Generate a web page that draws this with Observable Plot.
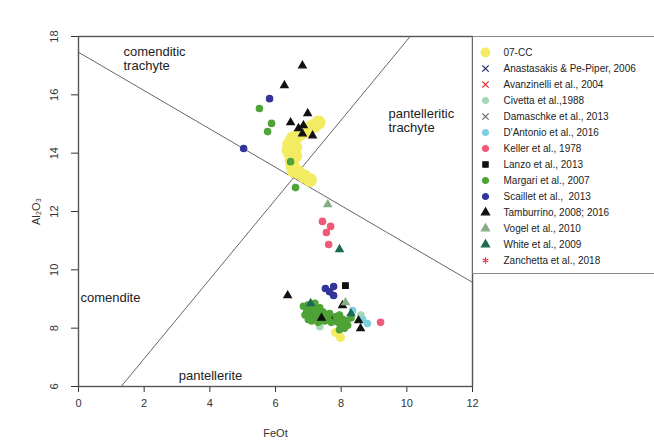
<!DOCTYPE html>
<html>
<head>
<meta charset="utf-8">
<script src="https://cdn.jsdelivr.net/npm/d3@7"></script>
<script src="https://cdn.jsdelivr.net/npm/@observablehq/plot@0.6"></script>
<style>
  html, body { margin: 0; padding: 0; background: #fff; }
  #wrap { position: relative; width: 654px; height: 443px; overflow: hidden; font-family: "Liberation Sans", Arial, sans-serif; }
  #legend { position: absolute; left: 472px; top: 36px; }
  #legend svg { display: block; border-top: 1px solid #8a8a8a; border-bottom: 1px solid #8a8a8a; border-left: 1px solid #6a6a6a; }
</style>
</head>
<body>
<div id="wrap"><div id="main"></div><div id="legend"></div></div>
<script>
// ---- Data (FeOt, Al2O3) ----
const sourceNames = ["07-CC","Anastasakis & Pe-Piper, 2006","Avanzinelli et al., 2004","Civetta et al.,1988","Damaschke et al., 2013","D'Antonio et al., 2016","Keller et al., 1978","Lanzo et al., 2013","Margari et al., 2007","Scaillet et al.,  2013","Tamburrino, 2008; 2016","Vogel et al., 2010","White et al., 2009","Zanchetta et al., 2018"];
const sourceColors = ["#f3ec62","#1c2a66","#e8232b","#a8d6b6","#6a6a6a","#7fd0de","#ef5a78","#111111","#4fa337","#33359a","#111111","#86ad86","#1d6a52","#e5344f"];
const sourceSymbols = ["circle","times","times","circle","times","circle","circle","square","circle","circle","triangle","triangle","triangle","asterisk"];

const cc07 = [[7.31,15.05],[7.2,14.95],[7.07,14.88],[6.95,14.8],[6.82,14.71],[6.68,14.6],[6.52,14.5],[6.42,14.3],[6.6,14.2],[6.4,14.1],[6.46,13.95],[6.6,13.9],[6.49,13.75],[6.52,13.55],[6.55,13.4],[6.7,13.34],[6.88,13.2],[7.05,13.08],[7.83,7.85],[7.98,7.68]];
const anastasakis = [[8.35,10.46],[7.95,11.42],[8.47,8.33]];
const avanzinelli = [[8.35,11.14],[6.82,8.78],[8.44,8.43],[8.2,7.9]];
const civetta = [[7.35,8.05],[8.6,8.45]];
const damaschke = [[5.85,15.7]];
const dantonio = [[8.35,8.6],[8.8,8.16],[8.65,8.3]];
const keller = [[7.43,11.66],[7.68,11.49],[7.55,11.28],[7.62,10.87],[9.2,8.2]];
const lanzo = [[8.13,9.46],[7.77,8.37],[8.07,8.2]];
const margari = [[5.51,15.53],[5.88,15.02],[5.76,14.74],[6.46,13.71],[6.61,12.82],
  [6.85,8.75],[6.95,8.6],[7.0,8.8],[7.05,8.5],[7.1,8.7],[7.15,8.4],[7.2,8.6],[7.25,8.3],[7.3,8.5],[7.35,8.7],[7.4,8.35],[7.45,8.55],[7.5,8.25],[7.55,8.45],[7.6,8.3],[7.65,8.5],[6.9,8.45],[7.0,8.3],[7.1,8.25],[7.3,8.2],[7.7,8.2],[7.2,8.85],
  [7.85,8.4],[7.9,8.2],[7.95,8.45],[8.0,8.1],[8.05,8.3],[8.1,8.0],[8.15,8.25],[8.2,8.1],[7.95,7.95],[8.3,8.35]];
const scaillet = [[5.82,15.87],[5.03,14.16],[7.52,9.36],[7.77,9.43],[7.77,9.12],[7.65,9.25]];
const tamburrino = [[6.82,17.0],[6.27,16.32],[6.98,15.36],[6.46,15.05],[6.7,14.85],[6.82,14.67],[7.13,14.6],[6.85,14.95],[6.37,9.12],[8.04,8.78],[8.59,7.99],[8.53,8.26],[7.4,8.35]];
const vogel = [[7.59,12.24],[8.13,8.88]];
const white = [[7.95,10.7],[7.07,8.85],[8.3,8.5]];
const zanchetta = [[7.9,7.7],[8.0,7.8],[8.1,7.65],[8.2,7.75],[8.3,7.7],[8.4,7.8],[8.05,7.6],[8.25,7.6],[8.45,7.65],[8.15,7.9],[8.35,7.95],[8.5,8.05]];

const seriesList = [cc07, anastasakis, avanzinelli, civetta, damaschke, dantonio, keller, lanzo, margari, scaillet, tamburrino, vogel, white, zanchetta];

// Boundary lines
const boundaryA = [[0,17.46],[12,9.57]];
const boundaryB = [[1.3,6],[10.1,18]];

// Field labels
const fieldLabelsLeft = [
  {x: 1.37, y: 17.26, text: "comenditic\ntrachyte"},
  {x: 9.44, y: 15.12, text: "pantelleritic\ntrachyte"},
  {x: 0.06, y: 9.05, text: "comendite"}
];
const fieldLabelsCenter = [
  {x: 4.02, y: 6.38, text: "pantellerite"}
];

const xTicks = [0,2,4,6,8,10,12];
const yTicks = [6,8,10,12,14,16,18];
const xDomain = [0, 12];
const yDomain = [6, 18];

// ---- Build table ----
const points = [];
seriesList.forEach((s, i) => s.forEach(([x, y]) => points.push({x, y, source: sourceNames[i]})));

const colorScale = {domain: sourceNames, range: sourceColors};
const symbolScale = {domain: sourceNames, range: sourceSymbols};
const rOf = d => d.source === "07-CC" ? (d.y < 10 ? 4.5 : 7) :
  d.source === "Damaschke et al., 2013" ? 2.5 :
  (d.source.startsWith("Tamburrino") || d.source.startsWith("Vogel") || d.source.startsWith("White")) ? 2.8 : 3.2;
const strokeless = ["Anastasakis","Avanzinelli","Damaschke","Zanchetta"];
const fillOf = d => strokeless.some(s => d.source.startsWith(s)) ? "none" : d.source;

const font = "Liberation Sans, Arial, sans-serif";
const main = Plot.plot({
  width: 654, height: 443,
  marginLeft: 78, marginRight: 182, marginTop: 36, marginBottom: 57,
  style: {fontFamily: font, fontSize: "11px", color: "#333", background: "#fff"},
  x: {domain: xDomain, ticks: xTicks, tickSize: 6, tickPadding: 7, label: "FeOt", labelAnchor: "center", labelOffset: 50, labelArrow: "none"},
  y: {domain: yDomain, ticks: yTicks, tickSize: 7, tickFormat: () => "", label: "Al₂O₃", labelAnchor: "center", labelOffset: 46, labelArrow: "none"},
  color: colorScale,
  symbol: symbolScale,
  r: {type: "identity"},
  marks: [
    Plot.text(yTicks, {x: () => 0, y: d => d, text: d => String(d), dx: -21, rotate: -90, textAnchor: "middle", lineAnchor: "bottom", fontSize: 11, fill: "#333"}),
    Plot.line(boundaryA, {x: d => d[0], y: d => d[1], stroke: "#666", strokeWidth: 1}),
    Plot.line(boundaryB, {x: d => d[0], y: d => d[1], stroke: "#666", strokeWidth: 1}),
    Plot.dot(points, {x: "x", y: "y", symbol: "source", fill: fillOf, stroke: "source", r: rOf, strokeWidth: d => d.source === "07-CC" ? 0 : 1.2}),
    Plot.text(fieldLabelsLeft, {x: "x", y: "y", text: "text", textAnchor: "start", lineAnchor: "middle", fontSize: 13, fill: "#222", lineHeight: 1.1}),
    Plot.text(fieldLabelsCenter, {x: "x", y: "y", text: "text", textAnchor: "middle", lineAnchor: "middle", fontSize: 13, fill: "#222"}),
    Plot.frame({stroke: "#555", strokeWidth: 1.4})
  ]
});
document.getElementById("main").appendChild(main);

// ---- Legend ----
const legendRows = sourceNames.map((name, i) => ({name, color: sourceColors[i], symbol: sourceSymbols[i]}));
const legend = Plot.plot({
  width: 182, height: 236,
  margin: 0,
  style: {fontFamily: font, fontSize: "10px", background: "#fff", overflow: "visible"},
  x: {domain: [0, 1], range: [12, 30], axis: null},
  y: {type: "point", domain: sourceNames, range: [12, 225], padding: 0, axis: null},
  symbol: symbolScale,
  marks: [
    Plot.dot(legendRows, {x: () => 0, y: "name", symbol: "name",
      fill: d => ["times","asterisk"].includes(d.symbol) ? "none" : d.color,
      stroke: d => d.color, r: d => d.name === "07-CC" ? 8 : 3, strokeWidth: d => d.name === "07-CC" ? 0 : 1.2}),
    Plot.text(legendRows, {x: () => 1, y: "name", text: "name", textAnchor: "start", fill: "#222", fontSize: 10})
  ]
});
document.getElementById("legend").appendChild(legend);
</script>
</body>
</html>
